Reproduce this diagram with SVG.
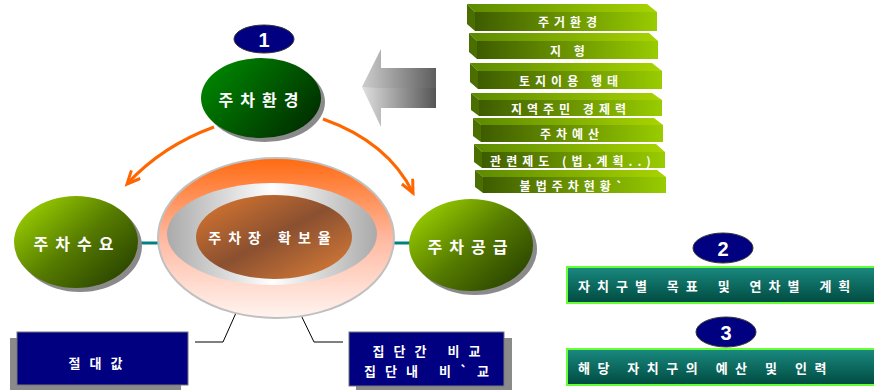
<svg xmlns="http://www.w3.org/2000/svg" width="874" height="390" viewBox="0 0 874 390">
<defs>
<linearGradient id="gEnv" x1="0" y1="0" x2="1" y2="0.6"><stop offset="0" stop-color="#009000"/><stop offset="1" stop-color="#003300"/></linearGradient>
<linearGradient id="gOlive" x1="0.1" y1="0.1" x2="0.9" y2="0.8"><stop offset="0" stop-color="#99cc00"/><stop offset="0.55" stop-color="#557a00"/><stop offset="1" stop-color="#2f4a00"/></linearGradient>
<linearGradient id="gOuter" x1="0" y1="0" x2="0" y2="1"><stop offset="0" stop-color="#ff6a10"/><stop offset="0.5" stop-color="#ffb8a0"/><stop offset="1" stop-color="#fff4f0"/></linearGradient>
<linearGradient id="gRing" x1="0" y1="0" x2="1" y2="0"><stop offset="0" stop-color="#aaaaaa"/><stop offset="0.5" stop-color="#ffffff"/><stop offset="1" stop-color="#aaaaaa"/></linearGradient>
<linearGradient id="gCore" x1="0" y1="0" x2="1" y2="1"><stop offset="0" stop-color="#e07a30"/><stop offset="0.5" stop-color="#8a5030"/><stop offset="1" stop-color="#e08038"/></linearGradient>
<linearGradient id="gArrow" x1="0" y1="0" x2="1" y2="0"><stop offset="0" stop-color="#e0e0e0"/><stop offset="0.5" stop-color="#9a9a9a"/><stop offset="1" stop-color="#555555"/></linearGradient>
<linearGradient id="gArrowTop" x1="0" y1="0" x2="1" y2="0"><stop offset="0" stop-color="#bbbbbb"/><stop offset="1" stop-color="#666666"/></linearGradient>
<linearGradient id="gBarF" x1="0" y1="0" x2="1" y2="0"><stop offset="0" stop-color="#3d5c00"/><stop offset="1" stop-color="#99cc00"/></linearGradient>
<linearGradient id="gBarT" x1="0" y1="0" x2="1" y2="0"><stop offset="0" stop-color="#5c8a00"/><stop offset="1" stop-color="#a8d400"/></linearGradient>
<linearGradient id="gTeal" x1="0" y1="0" x2="0" y2="1"><stop offset="0" stop-color="#1a8a80"/><stop offset="1" stop-color="#004a40"/></linearGradient>
<marker id="ah" markerUnits="userSpaceOnUse" markerWidth="18" markerHeight="18" refX="14" refY="7" orient="auto"><path d="M1,1 L14,7 L1,13" fill="none" stroke="#ff6600" stroke-width="3"/></marker>
<style>
.kr{font-family:"Noto Sans CJK KR","Liberation Sans",sans-serif;font-weight:bold;fill:#fff;text-anchor:middle;dominant-baseline:central}
.node{font-size:16px;letter-spacing:7px}
.bar{font-size:12px;letter-spacing:5px}
.box{font-size:13px;letter-spacing:9px}
.teal{font-size:13px;letter-spacing:7.5px;text-anchor:start}
.num{font-family:"Liberation Sans",Arial,sans-serif;font-weight:bold;fill:#fff;font-size:20px;text-anchor:middle;dominant-baseline:central}
.shadow{fill:#8a8a8a}
.badge{fill:#000080;stroke:#333;stroke-width:1}
.conn{fill:none;stroke:#000;stroke-width:1}
.bf{fill:url(#gBarF)}
.bt{fill:url(#gBarT)}
.bl{fill:#4a6e00}
</style>
</defs>

<g id="arrow-big">
<polygon points="362,87 381,49 381,68 436,68 436,108 381,108 381,127" fill="url(#gArrow)"/>
<polygon points="362,87 381,49 381,68 436,68 436,88 381,88" fill="url(#gArrowTop)" opacity="0.5"/>
</g>

<g id="connectors">
<path d="M214,127 Q162,146 127,184" fill="none" stroke="#ff6600" stroke-width="3" marker-end="url(#ah)"/>
<path d="M323,119 Q388,142 413,193" fill="none" stroke="#ff6600" stroke-width="3" marker-end="url(#ah)"/>
<line x1="137" y1="243" x2="158" y2="243" stroke="#008080" stroke-width="3"/>
<line x1="393" y1="243" x2="410" y2="243" stroke="#008080" stroke-width="3"/>
<polyline class="conn" points="252,277 223,342 195,342"/>
<polyline class="conn" points="284,280 314,342 343,342"/>
</g>

<g id="badge1"><ellipse cx="264" cy="39" rx="30" ry="14" class="badge"/><text x="264" y="40" class="num">1</text></g>

<g id="node-env">
<ellipse cx="265" cy="102" rx="60" ry="40" class="shadow"/>
<ellipse cx="261" cy="98" rx="60" ry="40" fill="url(#gEnv)"/>
<text x="262" y="99" class="kr node">주차환경</text>
</g>

<g id="node-demand">
<ellipse cx="80" cy="246" rx="62" ry="46" class="shadow"/>
<ellipse cx="76" cy="242" rx="62" ry="46" fill="url(#gOlive)"/>
<text x="77" y="243" class="kr node">주차수요</text>
</g>

<g id="node-supply">
<ellipse cx="475" cy="249" rx="62" ry="46" class="shadow"/>
<ellipse cx="471" cy="245" rx="62" ry="46" fill="url(#gOlive)"/>
<text x="471" y="246" class="kr node">주차공급</text>
</g>

<g id="node-center">
<ellipse cx="276" cy="238" rx="118" ry="80" fill="url(#gOuter)" stroke="#c0c0c0" stroke-width="2"/>
<ellipse cx="272" cy="234" rx="105" ry="51" fill="url(#gRing)"/>
<ellipse cx="274" cy="237" rx="78" ry="42" fill="url(#gCore)"/>
<text x="273" y="237" class="kr" style="font-size:14px;letter-spacing:7px">주차장 확보율</text>
</g>

<g id="bar1"><polygon class="bt" points="467,4 647,4 657,12 475,12"/><polygon class="bl" points="467,4 475,12 475,31 467,24"/><rect class="bf" x="475" y="12" width="182" height="19"/><text x="570" y="21" class="kr bar">주거환경</text></g>
<g id="bar2"><polygon class="bt" points="469,33 649,33 658,41 477,41"/><polygon class="bl" points="469,33 477,41 477,59 469,52"/><rect class="bf" x="477" y="41" width="181" height="18"/><text x="570" y="50" class="kr bar">지 형</text></g>
<g id="bar3"><polygon class="bt" points="470,63 652,63 662,71 478,71"/><polygon class="bl" points="470,63 478,71 478,89 470,82"/><rect class="bf" x="478" y="71" width="184" height="18"/><text x="571" y="80" class="kr bar">토지이용 행태</text></g>
<g id="bar4"><polygon class="bt" points="471,93 652,93 662,100 479,100"/><polygon class="bl" points="471,93 479,100 479,116 471,110"/><rect class="bf" x="479" y="100" width="183" height="16"/><text x="571" y="108" class="kr bar">지역주민 경제력</text></g>
<g id="bar5"><polygon class="bt" points="473,118 654,118 663,125 481,125"/><polygon class="bl" points="473,118 481,125 481,142 473,136"/><rect class="bf" x="481" y="125" width="182" height="17"/><text x="572" y="133" class="kr bar">주차예산</text></g>
<g id="bar6"><polygon class="bt" points="474,144 656,144 665,152 482,152"/><polygon class="bl" points="474,144 482,152 482,168 474,162"/><rect class="bf" x="482" y="152" width="183" height="16"/><text x="573" y="160" class="kr bar">관련제도 (법,계획..)</text></g>
<g id="bar7"><polygon class="bt" points="475,170 657,170 666,177 483,177"/><polygon class="bl" points="475,170 483,177 483,193 475,187"/><rect class="bf" x="483" y="177" width="183" height="16"/><text x="574" y="185" class="kr bar">불법주차현황`</text></g>

<g id="box-abs">
<rect x="10" y="338" width="171" height="53" class="shadow"/>
<rect x="17" y="332" width="171" height="53" fill="#000080" stroke="#777" stroke-width="1"/>
<text x="100" y="362" class="kr box">절대값</text>
</g>

<g id="box-compare">
<rect x="356" y="338" width="156" height="53" class="shadow"/>
<rect x="349" y="332" width="155" height="54" fill="#000080" stroke="#777" stroke-width="1"/>
<text x="431" y="350" class="kr box">집단간 비교</text>
<text x="431" y="370" class="kr box">집단내 비`교</text>
</g>

<g id="badge2"><ellipse cx="723" cy="248" rx="30" ry="15" class="badge"/><text x="723" y="249" class="num">2</text></g>
<g id="box-plan">
<rect x="567" y="267" width="308" height="36" fill="url(#gTeal)" stroke="#66ff33" stroke-width="2"/>
<text x="578" y="285" class="kr teal" style="letter-spacing:7px;word-spacing:3px">자치구별 목표 및 연차별 계획</text>
</g>

<g id="badge3"><ellipse cx="726" cy="332" rx="30" ry="15" class="badge"/><text x="726" y="333" class="num">3</text></g>
<g id="box-budget">
<rect x="567" y="349" width="308" height="36" fill="url(#gTeal)" stroke="#66ff33" stroke-width="2"/>
<text x="578" y="367" class="kr teal">해당 자치구의 예산 및 인력</text>
</g>
</svg>
